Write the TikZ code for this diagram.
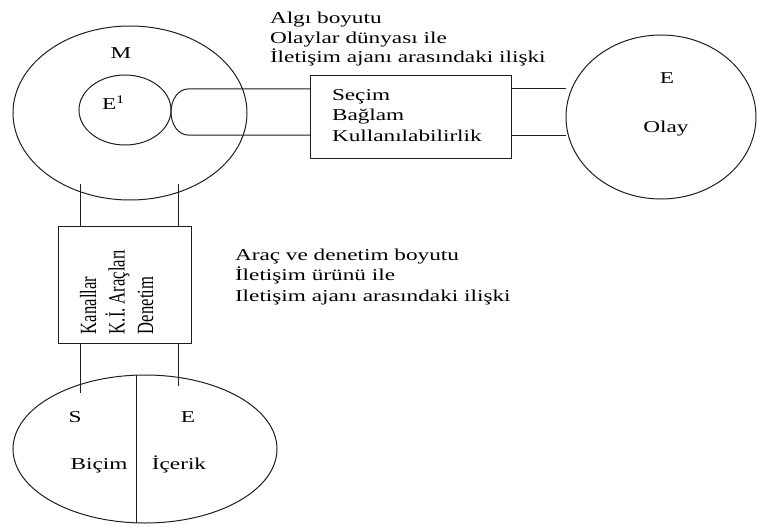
\documentclass[tikz,border=0pt]{standalone}
\usepackage{fontspec}
\usepackage{graphicx}
\setmainfont{Liberation Serif}[FakeStretch=1.4]
\newfontfamily\rotserif{Liberation Serif}
\usetikzlibrary{shapes.geometric}

\begin{document}
\begin{tikzpicture}[x=1pt,y=-1pt,
  every node/.style={inner sep=0pt, outer sep=0pt},
  shapeline/.style={draw=black!88, line width=1pt},
  oval/.style={shapeline, ellipse},
  panel/.style={shapeline, rectangle},
  link/.style={draw=black!88, line width=1pt},
  txt/.style={anchor=base west, font=\fontsize{16.6}{19.5}\selectfont},
  ctxt/.style={anchor=base, font=\fontsize{16.6}{19.5}\selectfont},
  vtxt/.style={anchor=base west, rotate=90, font=\rotserif\fontsize{16.6}{19.5}\selectfont}]
\useasboundingbox (0,0) rectangle (758,527);

% main shapes
\node[oval, minimum width=234pt, minimum height=174pt] (M) at (130,113) {};
\node[oval, minimum width=92pt, minimum height=70pt] (E1) at (125,110) {};
\node[panel, minimum width=201pt, minimum height=82pt] (sel) at (410.5,117) {};
\node[oval, minimum width=190pt, minimum height=164pt] (ev) at (661,117) {};
\node[panel, minimum width=133pt, minimum height=117pt] (tool) at (124.5,284.5) {};
\node[oval, minimum width=264pt, minimum height=148pt] (prod) at (145,449) {};

% tube from E1 to the selection box
\coordinate (tubeTop) at (188,89);
\coordinate (tubeBot) at (188,135);
\draw[link] (sel.west |- tubeTop) -- (tubeTop)
  .. controls (178.6,89) and (171,99.3) .. (171,112)
  .. controls (171,124.7) and (178.6,135) .. (tubeBot)
  -- (sel.west |- tubeBot);

% selection box to event circle
\draw[link] (sel.east |- tubeTop) -- (ev.west |- tubeTop);
\draw[link] (sel.east |- tubeBot) -- (ev.west |- tubeBot);

% vertical links through the tool box
\coordinate (mL) at (80,184);
\coordinate (mR) at (178,184);
\coordinate (pL) at (80,393);
\coordinate (pR) at (178,386);
\draw[link] (mL) -- (mL |- tool.north);
\draw[link] (mR) -- (mR |- tool.north);
\draw[link] (tool.south -| pL) -- (pL);
\draw[link] (tool.south -| pR) -- (pR);

% divider of the product ellipse
\draw[link] ([xshift=-9pt]prod.north) -- ([xshift=-9pt]prod.south);

% labels
\node[ctxt] (mlab) at (121,59) {M};
\node[txt] (e1lab) at (102,110) {E\textsuperscript{1}};

\node[txt] (a1) at (270,24) {Algı boyutu};
\node[txt] (a2) at (270,43.5) {Olaylar dünyası ile};
\node[txt] (a3) at (270,63) {İletişim ajanı arasındaki ilişki};

\node[txt] (s1) at (332,100) {Seçim};
\node[txt] (s2) at (332,120.5) {Bağlam};
\node[txt] (s3) at (332,141) {Kullanılabilirlik};

\node[ctxt] (evE) at (667,84) {E};
\node[ctxt] (evO) at (666,132) {Olay};

\node[txt] (b1) at (235,260) {Araç ve denetim boyutu};
\node[txt] (b2) at (235,280.5) {İletişim ürünü ile};
\node[txt] (b3) at (235,301) {Iletişim ajanı arasındaki ilişki};

\node[vtxt] (v1) at (96,334) {\scalebox{1}[1.4]{Kanallar}};
\node[vtxt] (v2) at (124.5,334) {\scalebox{1}[1.4]{K.İ. Araçları}};
\node[vtxt] (v3) at (153,334) {\scalebox{1}[1.4]{Denetim}};

\node[ctxt] (pS) at (75,422) {S};
\node[ctxt] (pE) at (188,422) {E};
\node[ctxt] (pB) at (99,469) {Biçim};
\node[ctxt] (pI) at (179,469) {İçerik};
\end{tikzpicture}
\end{document}
